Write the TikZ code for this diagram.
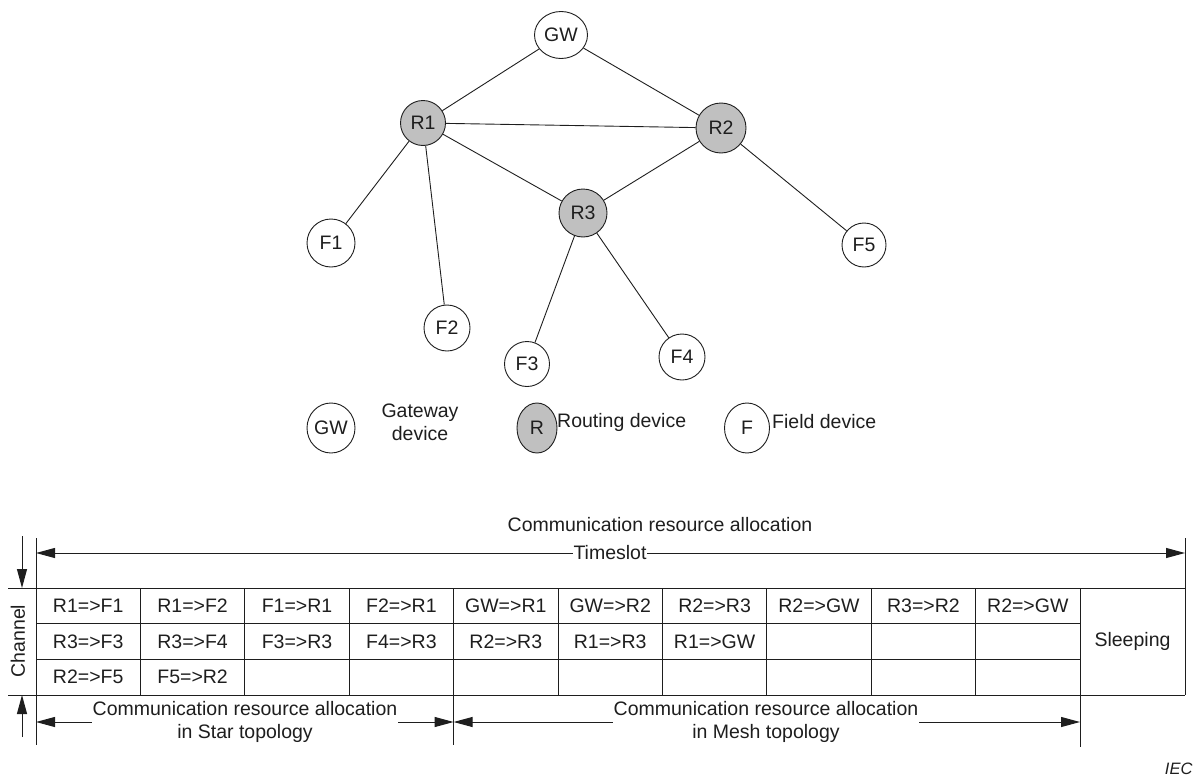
\documentclass[tikz,border=0pt]{standalone}
\usepackage{fontspec}
\setmainfont{Liberation Sans}
\usetikzlibrary{shapes.geometric,arrows.meta}
\definecolor{routefill}{RGB}{192,192,192}
\definecolor{ink}{RGB}{30,30,30}

\begin{document}
\begin{tikzpicture}[x=1pt,y=-1pt,
  font=\fontsize{19.5}{23}\selectfont,
  every node/.style={text=ink},
  link/.style={draw=ink,line width=0.9pt},
  dev/.style={circle,draw=ink,line width=0.9pt,fill=white,inner sep=0pt,minimum size=46pt},
  rdev/.style={dev,fill=routefill},
  gwdev/.style={ellipse,draw=ink,line width=0.9pt,fill=white,inner sep=0pt,minimum width=53pt,minimum height=47pt},
  legdev/.style={ellipse,draw=ink,line width=0.9pt,fill=white,inner sep=0pt,minimum height=50pt},
  grid/.style={draw=ink,line width=1pt},
  dimarrow/.style={draw=ink,line width=1pt,-{Triangle[length=19pt,width=10pt]}},
  twoarrow/.style={draw=ink,line width=1pt,{Triangle[length=19pt,width=10pt]}-{Triangle[length=19pt,width=10pt]}},
  gaplabel/.style={fill=white,inner sep=1pt,align=center}
]
\useasboundingbox (0,0) rectangle (1202,779);

% network
\node[gwdev] (GW) at (561,35) {GW};
\node[rdev,minimum size=45pt] (R1) at (423,123) {R1};
\node[rdev,minimum size=50pt] (R2) at (721,128) {R2};
\node[rdev,minimum size=48pt] (R3) at (583,213) {R3};
\node[dev,minimum size=48pt] (F1) at (331,243) {F1};
\node[dev] (F2) at (447,328) {F2};
\node[dev,minimum size=45pt] (F3) at (527,364) {F3};
\node[dev] (F4) at (682,357) {F4};
\node[dev,minimum size=44pt] (F5) at (864,245) {F5};

\draw[link] (GW) -- (R1);
\draw[link] (GW) -- (R2);
\draw[link] (R1) -- (R2);
\draw[link] (R1) -- (R3);
\draw[link] (R2) -- (R3);
\draw[link] (R1) -- (F1);
\draw[link] (R1) -- (F2);
\draw[link] (R3) -- (F3);
\draw[link] (R3) -- (F4);
\draw[link] (R2) -- (F5);

% legend
\node[legdev,minimum width=48pt] (lgGW) at (331,428) {GW};
\node[align=center] (lgGWt) at (420,422) {Gateway\\device};
\node[legdev,fill=routefill,minimum width=40pt] (lgR) at (537,428) {R};
\node[anchor=west,inner sep=0pt] (lgRt) at (557,422) {Routing device};
\node[legdev,minimum width=45pt] (lgF) at (747,428) {F};
\node[anchor=west,inner sep=0pt] (lgFt) at (772,422) {Field device};

% table title and timeslot dimension
\node (title) at (660,525) {Communication resource allocation};
\coordinate (tsL) at (36,553);
\coordinate (tsR) at (1185,553);
\draw[twoarrow] (tsL) -- (tsR);
\node[gaplabel] (ts) at (610,553) {Timeslot};

% grid
\draw[grid] (8,588) -- (1185,588);
\draw[grid] (8,695) -- (1185,695);
\draw[grid] (36,623.7) -- (1080,623.7);
\draw[grid] (36,659.3) -- (1080,659.3);
\draw[grid] (36,538) -- (36,745);
\draw[grid] (1185,538) -- (1185,695);
\foreach \i in {1,...,10} \draw[grid] (36+104.4*\i,588) -- (36+104.4*\i,695);
\draw[grid] (453.6,695) -- (453.6,745);
\draw[grid] (1080,695) -- (1080,747);

% cells
\foreach \t [count=\i from 0] in {R1=>F1,R1=>F2,F1=>R1,F2=>R1,GW=>R1,GW=>R2,R2=>R3,R2=>GW,R3=>R2,R2=>GW}
  \node (ca\i) at (36+104.4*\i+52.2,605.8) {\t};
\foreach \t [count=\i from 0] in {R3=>F3,R3=>F4,F3=>R3,F4=>R3,R2=>R3,R1=>R3,R1=>GW}
  \node (cb\i) at (36+104.4*\i+52.2,641.5) {\t};
\foreach \t [count=\i from 0] in {R2=>F5,F5=>R2}
  \node (cc\i) at (36+104.4*\i+52.2,677.2) {\t};
\node (sleep) at (1132.5,641.5) {Sleeping};

% channel dimension
\coordinate (chA) at (22,536);
\coordinate (chB) at (22,588);
\coordinate (chC) at (22,737);
\coordinate (chD) at (22,695);
\draw[dimarrow] (chA) -- (chB);
\draw[dimarrow] (chC) -- (chD);
\node[rotate=90] (chan) at (18,641) {Channel};

% topology spans
\coordinate (stL) at (36,722);
\coordinate (stR) at (453.6,722);
\coordinate (msR) at (1080,722);
\draw[twoarrow] (stL) -- (stR);
\draw[twoarrow] (stR) -- (msR);
\node[gaplabel] (star) at (245,721.5) {Communication resource allocation\\in Star topology};
\node[gaplabel] (mesh) at (766,721.5) {Communication resource allocation\\in Mesh topology};

\node[anchor=east,font=\fontsize{16.5}{19}\selectfont\itshape] (iec) at (1196,769) {IEC};
\end{tikzpicture}
\end{document}
